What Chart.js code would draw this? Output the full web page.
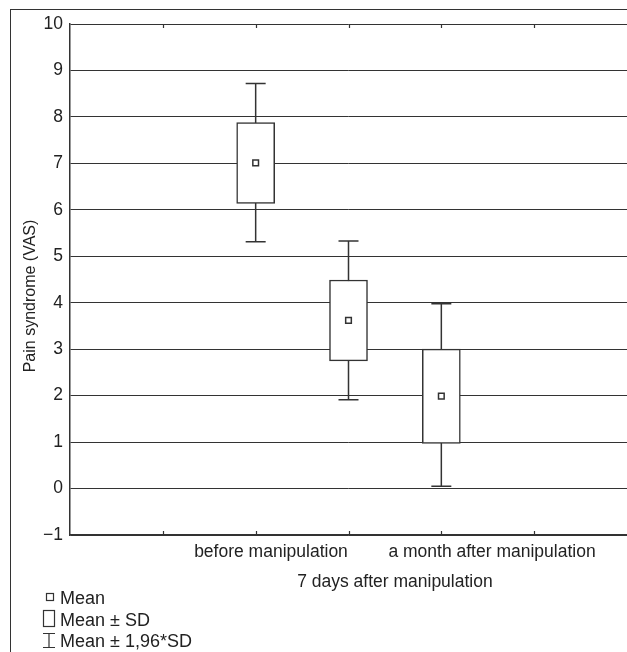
<!DOCTYPE html>
<html>
<head>
<meta charset="utf-8">
<script src="https://cdn.jsdelivr.net/npm/chart.js@4"></script>
<style>
  body { margin: 0; background: #fff; }
  #wrap { position: relative; width: 627px; height: 652px; overflow: hidden; }
  #frame { position: absolute; left: 10px; top: 9px; width: 700px; height: 700px;
           border-left: 1px solid #333; border-top: 1px solid #333; }
  canvas { position: absolute; left: 0; top: 0; }
</style>
</head>
<body>
<div id="wrap">
  <div id="frame"></div>
  <canvas id="boxChart" width="627" height="652"></canvas>
</div>
<script>
// Categories and their position on the x axis
const categories = ["before manipulation", "7 days after manipulation", "a month after manipulation"];
const catX = [2, 3, 4];

// Values (VAS)
const means = [7.01, 3.62, 1.99];
const sdLow = [6.14, 2.75, 0.97];
const sdHigh = [7.88, 4.49, 3.00];
const ciLow = [5.31, 1.91, 0.05];
const ciHigh = [8.72, 5.33, 3.98];

// Axis ranges
const yMin = -1, yMax = 10;
const xMin = 0, xMax = 6;
const xTickMarks = [1, 2, 3, 4, 5];

const legendItems = ["Mean", "Mean \u00b1 SD", "Mean \u00b1 1,96*SD"];

// the original plot sets its category labels a little right of the boxes
const labelShift = [0.165, 0.5, 0.546];

const INK = "#333";
const FONT = '"Liberation Sans", Arial, sans-serif';
Chart.defaults.font.family = FONT;
Chart.defaults.color = "#222";

// whiskers, tick marks, y title and legend
const extras = {
  id: "extras",
  beforeDatasetsDraw(chart) {
    const { ctx, scales: { x, y } } = chart;
    ctx.save();
    ctx.strokeStyle = INK;
    ctx.lineWidth = 1.5;
    catX.forEach((cx, i) => {
      const px = x.getPixelForValue(cx);
      const top = y.getPixelForValue(ciHigh[i]);
      const bot = y.getPixelForValue(ciLow[i]);
      ctx.beginPath();
      ctx.moveTo(px, top); ctx.lineTo(px, bot);
      ctx.moveTo(px - 10, top); ctx.lineTo(px + 10, top);
      ctx.moveTo(px - 10, bot); ctx.lineTo(px + 10, bot);
      ctx.stroke();
    });
    ctx.restore();
  },
  afterDraw(chart) {
    const { ctx, chartArea, scales: { x } } = chart;
    ctx.save();
    ctx.strokeStyle = INK;
    ctx.lineWidth = 1.2;
    xTickMarks.forEach(v => {
      const px = Math.round(x.getPixelForValue(v)) + 0.5;
      ctx.beginPath();
      ctx.moveTo(px, chartArea.bottom); ctx.lineTo(px, chartArea.bottom - 4);
      ctx.moveTo(px, chartArea.top); ctx.lineTo(px, chartArea.top + 4);
      ctx.stroke();
    });

    // y axis title
    ctx.fillStyle = "#222";
    ctx.font = "16px " + FONT;
    ctx.textAlign = "center";
    ctx.textBaseline = "middle";
    ctx.save();
    ctx.translate(31, 296);
    ctx.rotate(-Math.PI / 2);
    ctx.fillText("Pain syndrome (VAS)", 0, 0);
    ctx.restore();

    // legend
    ctx.font = "18px " + FONT;
    ctx.textAlign = "left";
    ctx.lineWidth = 1.2;
    const rows = [599, 621, 642];
    legendItems.forEach((t, i) => ctx.fillText(t, 60, rows[i]));
    ctx.strokeRect(46.5, 593.5, 7, 7);
    ctx.strokeRect(43.5, 610.5, 11, 16);
    ctx.beginPath();
    ctx.moveTo(43, 633.5); ctx.lineTo(55, 633.5);
    ctx.moveTo(43, 647.5); ctx.lineTo(55, 647.5);
    ctx.moveTo(49, 633.5); ctx.lineTo(49, 647.5);
    ctx.stroke();
    ctx.restore();
  }
};

const ctx = document.getElementById("boxChart").getContext("2d");
const boxChart = new Chart(ctx, {
  type: "bar",
  data: {
    datasets: [
      {
        type: "scatter",
        label: "Mean",
        data: catX.map((cx, i) => ({ x: cx, y: means[i] })),
        pointStyle: "rect",
        radius: 4,
        backgroundColor: "#fff",
        borderColor: INK,
        borderWidth: 1.5,
        order: 0
      },
      {
        label: "Mean \u00b1 SD",
        data: catX.map((cx, i) => ({ x: cx, y: [sdLow[i], sdHigh[i]] })),
        backgroundColor: "#fff",
        borderColor: INK,
        borderWidth: 1.5,
        borderSkipped: false,
        barThickness: 38,
        order: 1
      }
    ]
  },
  options: {
    responsive: false,
    animation: false,
    layout: { autoPadding: false, padding: { top: 24, right: 0, left: 0, bottom: 0 } },
    plugins: { legend: { display: false }, tooltip: { enabled: false } },
    scales: {
      x: {
        type: "linear",
        min: xMin,
        max: xMax,
        offset: false,
        grid: { display: false, drawTicks: false },
        border: { display: true, color: INK, width: 1.5 },
        afterFit(scale) {
          scale.height = 117;
          scale.paddingLeft = 0;
          scale.paddingRight = 0;
        },
        afterBuildTicks(scale) {
          scale.ticks = catX.map((cx, i) => ({ value: cx + labelShift[i], label: categories[i] }));
        },
        ticks: {
          autoSkip: false,
          maxRotation: 0,
          padding: 2,
          font: { size: 17.5, lineHeight: 1.71 },
          callback(v, i) {
            return i === 1 ? ["", categories[i]] : categories[i];
          }
        }
      },
      y: {
        min: yMin,
        max: yMax,
        afterFit(scale) { scale.width = 70; },
        grid: { color: INK, lineWidth: 1, drawTicks: false },
        border: { display: true, color: INK, width: 1.5 },
        ticks: {
          stepSize: 1,
          padding: 7,
          font: { size: 17.5 },
          callback: v => (v < 0 ? "\u2212" + Math.abs(v) : v)
        }
      }
    }
  },
  plugins: [extras]
});
</script>
</body>
</html>
